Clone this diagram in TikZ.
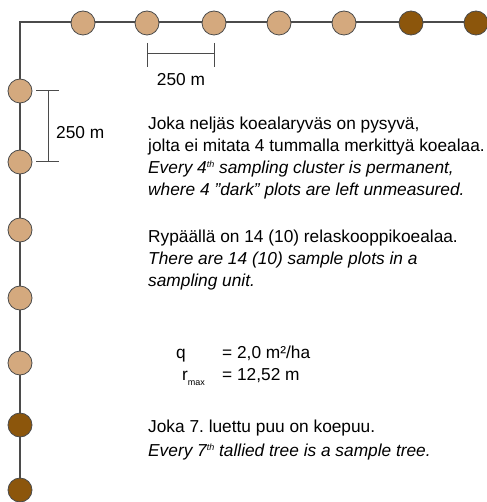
\documentclass[tikz,border=0pt]{standalone}
\usepackage{fontspec}
\setmainfont{Liberation Sans}

\definecolor{plotlight}{RGB}{212,169,126}
\definecolor{plotdark}{RGB}{140,86,12}
\definecolor{lineg}{RGB}{75,75,75}

\newcommand{\supth}{\raisebox{6pt}{\fontsize{9}{9}\selectfont th}}

\begin{document}
\begin{tikzpicture}[x=1pt,y=-1pt,
  plot/.style={circle,draw=lineg,line width=0.8pt,minimum size=24pt,inner sep=0pt,fill=plotlight},
  darkplot/.style={plot,fill=plotdark},
  txt/.style={anchor=base west,inner sep=0pt,font=\fontsize{17.3}{22}\selectfont},
  dimline/.style={draw=lineg,line width=1pt}]

\useasboundingbox (0,0) rectangle (486,502);

% Corner of the cluster and the free ends of the line
\coordinate (K) at (20,22);
\coordinate (E) at (486,22);
\coordinate (S) at (20,502);

% Draw the line of the sampling unit
\draw[lineg, line width=1.2pt] (E) -- (K) -- (S);

% Plots on the top side
\foreach \x [count=\i] in {83,147,214,279,344,411,476} {
  \ifnum\i>5
    \node[darkplot] (t\i) at (\x,23) {};
  \else
    \node[plot] (t\i) at (\x,23) {};
  \fi
}

% Plots on the left side
\foreach \y [count=\i] in {91,162,230,298,363,425,490} {
  \ifnum\i>5
    \node[darkplot] (l\i) at (20,\y) {};
  \else
    \node[plot] (l\i) at (20,\y) {};
  \fi
}

% Horizontal distance mark
\coordinate (H1) at (147,54);
\coordinate (H2) at (214,54);
\draw[dimline] (147,43) -- (147,67);
\draw[dimline] (214,43) -- (214,67);
\draw[dimline] (H1) -- (H2);
\node[txt, anchor=base] (hlab) at (181,86) {250 m};

% Vertical distance mark
\coordinate (V1) at (48,91);
\coordinate (V2) at (48,162);
\draw[dimline] (36,91) -- (59,91);
\draw[dimline] (36,162) -- (59,162);
\draw[dimline] (V1) -- (V2);
\node[txt] (vlab) at (56,139) {250 m};

% Texts
\node[txt] (a1) at (148,130) {Joka neljäs koealaryväs on pysyvä,};
\node[txt] (a2) at (148,152) {jolta ei mitata 4 tummalla merkittyä koealaa.};
\node[txt] (a3) at (148,174) {\itshape Every 4\supth\ sampling cluster is permanent,};
\node[txt] (a4) at (148,196) {\itshape where 4 \symbol{"22}dark\symbol{"22} plots are left unmeasured.};

\node[txt] (b1) at (148,242) {Rypäällä on 14 (10) relaskooppikoealaa.};
\node[txt] (b2) at (148,264) {\itshape There are 14 (10) sample plots in a};
\node[txt] (b3) at (148,286) {\itshape sampling unit.};

\node[txt] (q) at (176,358) {q};
\node[txt] (qv) at (222,358) {= 2,0 m²/ha};
\node[txt] (r) at (182,380) {r\raisebox{-5pt}{\fontsize{9}{9}\selectfont max}};
\node[txt] (rv) at (222,380) {= 12,52 m};

\node[txt] (c1) at (148,432) {Joka 7.\ luettu puu on koepuu.};
\node[txt] (c2) at (148,456) {\itshape Every 7\supth\ tallied tree is a sample tree.};

\end{tikzpicture}
\end{document}
